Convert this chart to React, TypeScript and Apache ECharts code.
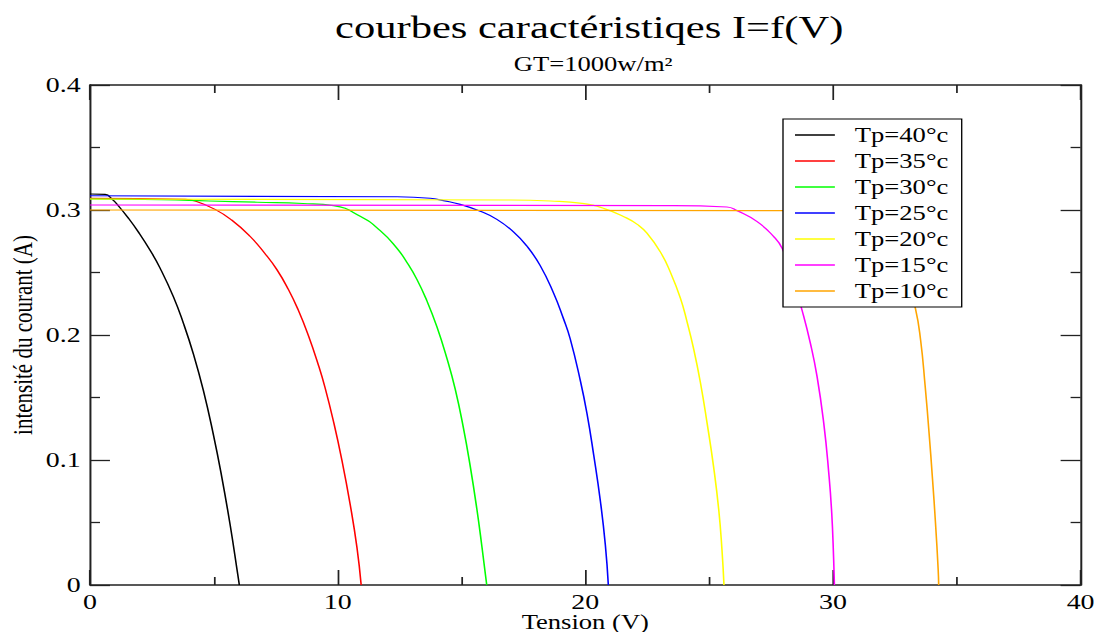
import React, { useEffect, useRef } from "react";
import * as echarts from "echarts";

// Horizontal stretch applied to the whole chart surface
const STRETCH = 1.33;
const FULL_W = 1098;
const FULL_H = 632;
const CHART_W = FULL_W / STRETCH;

const SERIF = "'Liberation Serif', 'Times New Roman', serif";

// I-V characteristic curves: [tension (V), intensité (A)]
const tp40: number[][] = [
  [0, 0.3128], [0.61, 0.3125], [0.9, 0.3085], [1.14, 0.3035], [1.55, 0.2935], [1.95, 0.2825],
  [2.42, 0.268], [2.83, 0.2535], [3.37, 0.2305], [3.77, 0.2095], [4.18, 0.1845],
  [4.58, 0.1555], [4.98, 0.1205], [5.32, 0.0865], [5.66, 0.048], [5.97, 0.008], [6.03, 0],
];
const tp35: number[][] = [
  [0, 0.3093], [3.84, 0.3085], [4.24, 0.3072], [5.05, 0.3005], [5.72, 0.292],
  [6.46, 0.279], [7.07, 0.265], [7.54, 0.2525], [8.01, 0.2365], [8.42, 0.2195],
  [8.82, 0.1995], [9.23, 0.1755], [9.49, 0.158], [9.83, 0.131], [10.17, 0.1],
  [10.51, 0.064], [10.78, 0.03], [10.95, 0],
];
const tp30: number[][] = [
  [0, 0.3088], [2.9, 0.3082], [4.8, 0.3072], [6.75, 0.3062], [8.6, 0.3052],
  [9.83, 0.3035], [10.91, 0.295], [11.72, 0.2835], [12.39, 0.2695], [12.8, 0.258],
  [13.2, 0.2445], [13.6, 0.2275], [14.01, 0.2065], [14.41, 0.1815], [14.75, 0.1565],
  [15.08, 0.1255], [15.35, 0.0955], [15.62, 0.061], [15.83, 0.03], [16.02, 0],
];
const tp25: number[][] = [
  [0, 0.3114], [12.4, 0.3106], [13.74, 0.3094], [14.27, 0.3075], [14.95, 0.3045],
  [15.76, 0.299], [16.43, 0.2925], [17.1, 0.2825], [17.64, 0.2712], [18.18, 0.2555],
  [18.72, 0.2335], [19.12, 0.213], [19.39, 0.197], [19.8, 0.1635], [20.07, 0.137],
  [20.34, 0.104], [20.61, 0.067], [20.81, 0.032], [20.93, 0],
];
const tp20: number[][] = [
  [0, 0.3088], [16.77, 0.308], [18.59, 0.3072], [19.87, 0.3053], [20.74, 0.3013],
  [21.68, 0.2935], [22.1, 0.2885], [22.49, 0.2815], [23.03, 0.2665], [23.43, 0.2505],
  [23.84, 0.2295], [24.11, 0.2105], [24.38, 0.1885], [24.65, 0.1618], [24.92, 0.1293],
  [25.18, 0.0947], [25.39, 0.06], [25.52, 0.028], [25.6, 0],
];
const tp15: number[][] = [
  [0, 0.304], [23.43, 0.3035], [25.72, 0.3024], [26.13, 0.2995], [26.94, 0.2907],
  [27.61, 0.2787], [27.95, 0.2693], [28.35, 0.2475], [28.75, 0.22], [29.09, 0.1933],
  [29.36, 0.1667], [29.63, 0.1293], [29.83, 0.09], [29.95, 0.058], [30.03, 0.02],
  [30.06, 0],
];
const tp10: number[][] = [
  [0, 0.3], [30.0, 0.2995], [31.0, 0.2965], [31.8, 0.289], [32.4, 0.275],
  [32.9, 0.252], [33.33, 0.2213], [33.54, 0.196], [33.72, 0.16], [33.88, 0.122],
  [34.02, 0.085], [34.14, 0.05], [34.25, 0.012], [34.27, 0],
];

const seriesNames = ["Tp=40°c", "Tp=35°c", "Tp=30°c", "Tp=25°c", "Tp=20°c", "Tp=15°c", "Tp=10°c"];
const seriesData = [tp40, tp35, tp30, tp25, tp20, tp15, tp10];
const seriesColors = ["#000000", "#ff0000", "#00ff00", "#0000ff", "#ffff00", "#ff00ff", "#ffa500"];

const xTicks = { min: 0, max: 40, interval: 10 };
const yTicks = { min: 0, max: 0.4, interval: 0.1 };

const titleText = "courbes caractéristiqes I=f(V)";
const subtitleText = "GT=1000w/m²";
const xName = "Tension (V)";
const yName = "intensité du courant (A)";

const axisColor = "#222";

function xAxisBase(position: "bottom" | "top", showLabel: boolean) {
  return {
    type: "value",
    position,
    min: xTicks.min,
    max: xTicks.max,
    interval: xTicks.interval,
    axisLine: { show: true, onZero: false, lineStyle: { color: axisColor, width: 1.5 } },
    axisTick: { show: true, inside: true, length: 15, lineStyle: { color: axisColor, width: 1.3 } },
    minorTick: { show: true, splitNumber: 2, length: 8, lineStyle: { color: axisColor, width: 1.3 } },
    splitLine: { show: false },
    minorSplitLine: { show: false },
    axisLabel: {
      show: showLabel,
      fontFamily: SERIF,
      fontSize: 21,
      color: "#000",
      margin: 6,
    },
  };
}

function yAxisBase(position: "left" | "right", showLabel: boolean) {
  return {
    type: "value",
    position,
    min: yTicks.min,
    max: yTicks.max,
    interval: yTicks.interval,
    axisLine: { show: true, onZero: false, lineStyle: { color: axisColor, width: 1.5 } },
    axisTick: { show: true, inside: true, length: 15, lineStyle: { color: axisColor, width: 1.3 } },
    minorTick: { show: true, splitNumber: 2, length: 7.5, lineStyle: { color: axisColor, width: 1.3 } },
    splitLine: { show: false },
    minorSplitLine: { show: false },
    axisLabel: {
      show: showLabel,
      fontFamily: SERIF,
      fontSize: 21,
      color: "#000",
      margin: 7,
      formatter: (v: number) => (v === 0 ? "0" : String(+v.toFixed(1))),
    },
  };
}

export default function App() {
  const ref = useRef<HTMLDivElement>(null);

  useEffect(() => {
    if (!ref.current) return;
    const chart = echarts.init(ref.current, undefined, { renderer: "svg" });

    const gridLeft = 90 / STRETCH;
    const gridRight = CHART_W - 1080 / STRETCH;

    chart.setOption({
      animation: false,
      backgroundColor: "#ffffff",
      title: [
        {
          text: titleText,
          left: 438,
          top: 6,
          textAlign: "center",
          textStyle: { fontFamily: SERIF, fontSize: 32, fontWeight: "normal", color: "#000" },
        },
        {
          text: subtitleText,
          left: 441,
          top: 49,
          textAlign: "center",
          textStyle: { fontFamily: SERIF, fontSize: 20, fontWeight: "normal", color: "#000" },
        },
      ],
      grid: {
        left: gridLeft,
        right: gridRight,
        top: 85,
        bottom: 47,
        containLabel: false,
        outerBoundsMode: "none",
      },
      legend: {
        orient: "vertical",
        left: 783 / STRETCH,
        top: 119,
        padding: [6, 10, 6, 9],
        itemWidth: 30,
        itemHeight: 1.5,
        itemGap: 6,
        icon: "rect",
        backgroundColor: "#ffffff",
        borderColor: "#000",
        borderWidth: 1,
        borderRadius: 0,
        data: seriesNames,
        textStyle: {
          fontFamily: SERIF,
          fontSize: 20,
          color: "#000",
          lineHeight: 20,
          padding: [0, 0, 0, 10],
        },
      },
      xAxis: [
        {
          ...xAxisBase("bottom", true),
          name: xName,
          nameLocation: "middle",
          nameGap: 27,
          nameMoveOverlap: false,
          nameTextStyle: { fontFamily: SERIF, fontSize: 20, color: "#000", lineHeight: 20 },
        },
        { ...xAxisBase("top", false) },
      ],
      yAxis: [
        {
          ...yAxisBase("left", true),
          name: yName,
          nameLocation: "middle",
          nameGap: 40,
          nameRotate: 90,
          nameMoveOverlap: false,
          nameTextStyle: { fontFamily: SERIF, fontSize: 21, color: "#000" },
        },
        { ...yAxisBase("right", false) },
      ],
      series: seriesNames.map((name, i) => ({
        name,
        type: "line",
        xAxisIndex: 0,
        yAxisIndex: 0,
        data: seriesData[i],
        showSymbol: false,
        symbol: "none",
        smooth: 0.5,
        lineStyle: { color: seriesColors[i], width: 1.2 },
        itemStyle: { color: seriesColors[i] },
        emphasis: { disabled: true },
      })),
    });

    return () => chart.dispose();
  }, []);

  return (
    <div
      style={{
        position: "fixed",
        left: 0,
        top: 0,
        width: FULL_W,
        height: FULL_H,
        overflow: "hidden",
        background: "#ffffff",
      }}
    >
      <div
        ref={ref}
        style={{
          width: CHART_W,
          height: FULL_H,
          transform: `scaleX(${STRETCH})`,
          transformOrigin: "0 0",
        }}
      />
    </div>
  );
}
